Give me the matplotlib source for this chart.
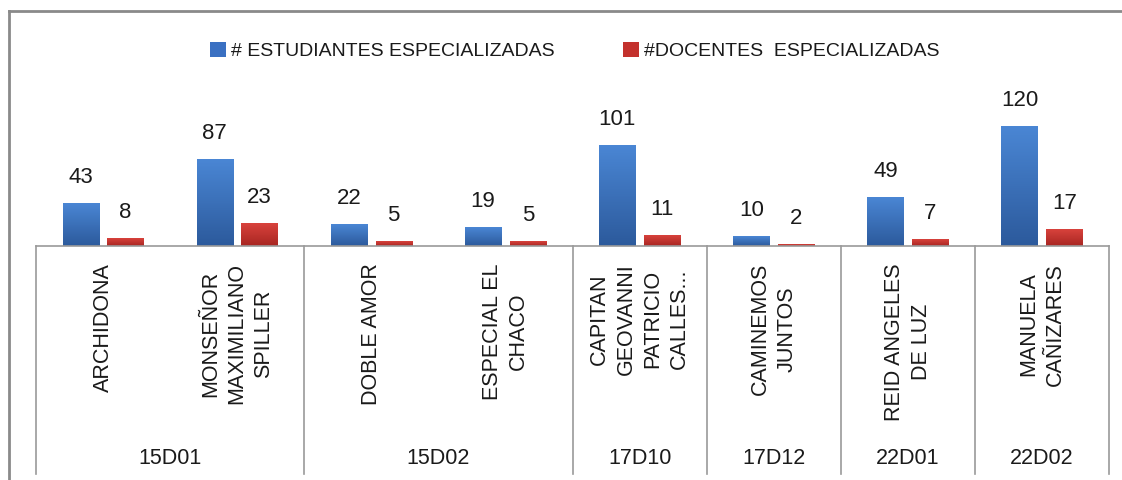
import matplotlib
matplotlib.use("Agg")
import matplotlib.pyplot as plt
from matplotlib.colors import LinearSegmentedColormap
import numpy as np

# Data
schools = ["ARCHIDONA", "MONSEÑOR\nMAXIMILIANO\nSPILLER", "DOBLE AMOR", "ESPECIAL EL\nCHACO",
           "CAPITAN\nGEOVANNI\nPATRICIO\nCALLES...", "CAMINEMOS\nJUNTOS", "REID ANGELES\nDE LUZ",
           "MANUELA\nCAÑIZARES"]
districts = ["15D01", "15D02", "17D10", "17D12", "22D01", "22D02"]
district_sizes = [2, 2, 1, 1, 1, 1]
estudiantes = [43, 87, 22, 19, 101, 10, 49, 120]
docentes = [8, 23, 5, 5, 11, 2, 7, 17]
series_names = ["# ESTUDIANTES ESPECIALIZADAS", "#DOCENTES  ESPECIALIZADAS"]

plt.rcParams['font.family'] = ['Liberation Sans', 'DejaVu Sans']
W, H = 1122, 480
fig = plt.figure(figsize=(W / 100, H / 100), dpi=100)

# pixel helpers
def fx(px):
    return px / W

def fy(py):
    return 1 - py / H

ax_left, ax_right, ax_base, ax_top = 36, 1109, 246, 30
ax = fig.add_axes([fx(ax_left), fy(ax_base), fx(ax_right - ax_left), (ax_base - ax_top) / H])

x = np.arange(len(schools))
bw = 0.27
off = 0.167
blue = "#3a70c2"
red = "#c3312d"
bars_b = ax.bar(x - off, estudiantes, bw, color=blue, label=series_names[0])
bars_r = ax.bar(x + off, docentes, bw, color=red, label=series_names[1])

# Excel-like vertical gradient on the bars
cm_b = LinearSegmentedColormap.from_list("b", ["#2c5a9c", "#4a86d4"])
cm_r = LinearSegmentedColormap.from_list("r", ["#a82622", "#d8423c"])
grad = np.linspace(0, 1, 64).reshape(-1, 1)
for bars, cm in ((bars_b, cm_b), (bars_r, cm_r)):
    for p in bars:
        x0, y0 = p.get_x(), p.get_y()
        img = ax.imshow(grad, cmap=cm, aspect="auto", origin="lower",
                        extent=(x0, x0 + p.get_width(), y0, y0 + p.get_height()), zorder=2)
        img.set_clip_path(p)

for xi, v in zip(x - off, estudiantes):
    ax.annotate(str(v), (xi, v), xytext=(0, 18.5), textcoords="offset points",
                ha="center", va="center", fontsize=16, color="#1a1a1a")
for xi, v in zip(x + off, docentes):
    ax.annotate(str(v), (xi, v), xytext=(0, 18.5), textcoords="offset points",
                ha="center", va="center", fontsize=16, color="#1a1a1a")

ax.set_xlim(-0.5, len(schools) - 0.5)
ax.set_ylim(0, ax_base - ax_top)
ax.axis("off")

# baseline of category axis
grey = "#9a9a9a"
fig.add_artist(plt.Line2D([fx(ax_left), fx(ax_right)], [fy(ax_base), fy(ax_base)],
                          color=grey, lw=1.2))

# group separators and labels
cat_w = (ax_right - ax_left) / len(schools)
bounds = np.concatenate([[0], np.cumsum(district_sizes)])
for b in bounds:
    px = ax_left + b * cat_w
    fig.add_artist(plt.Line2D([fx(px), fx(px)], [fy(ax_base), fy(474)], color=grey, lw=1.2))
for name, a, b in zip(districts, bounds[:-1], bounds[1:]):
    cx = ax_left + (a + b) / 2 * cat_w
    fig.text(fx(cx), fy(458), name, ha="center", va="center", fontsize=15.5, color="#1a1a1a")

# rotated school labels
for i, s in enumerate(schools):
    cx = ax_left + (i + 0.5) * cat_w
    fig.text(fx(cx), fy(263), s, rotation=90, ha="center", va="top", multialignment="center",
             fontsize=15.5, linespacing=1.35, color="#1a1a1a")

# legend
leg = fig.legend(loc="center", bbox_to_anchor=(fx(575), fy(51)), ncol=2, frameon=False,
                 fontsize=14, handlelength=0.8, handleheight=0.8, handletextpad=0.3,
                 columnspacing=3.5)
for t in leg.get_texts():
    t.set_color("#1a1a1a")

# outer chart frame (left and top edges visible)
fig.add_artist(plt.Line2D([fx(9), fx(9)], [fy(11), 0], color="#8a8a8a", lw=2))
fig.add_artist(plt.Line2D([fx(9), 1], [fy(11), fy(11)], color="#8a8a8a", lw=2))

fig.savefig("out.png", dpi=100)
